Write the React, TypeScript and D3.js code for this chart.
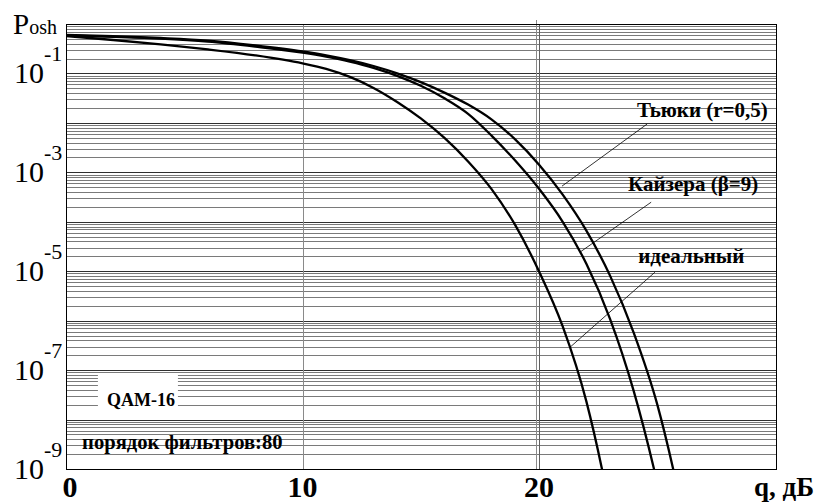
import React from "react";
import * as d3 from "d3";

const W = 819;
const H = 504;

// ---- data ----
const qIdeal = [0, 2, 4, 6, 8, 10, 11, 12, 13, 14, 15, 16, 17, 18, 19, 20, 21, 22, 22.66, 23.2];
const pIdeal = [0.572, 0.475, 0.387, 0.306, 0.232, 0.16, 0.1236, 0.0851, 0.051, 0.0265, 0.01233, 4.97e-3, 1.66e-3, 4.52e-4, 8.43e-5, 9.91e-6, 7.64e-7, 2.33e-8, 1e-9, 4.84e-11];

const qKaiser = [0, 2, 4, 6, 8, 10, 11, 12, 13, 14, 15, 16, 17, 18, 19, 20, 21, 22, 23, 24, 24.86, 25.4];
const pKaiser = [0.585, 0.548, 0.504, 0.4385, 0.3475, 0.2627, 0.2182, 0.1736, 0.13, 0.0896, 0.0562, 0.0314, 0.01525, 5.47e-3, 1.71e-3, 4.64e-4, 1.0e-4, 1.41e-5, 1.09e-6, 3.81e-8, 1e-9, 7.1e-11];

const qTukey = [0, 2, 4, 6, 8, 10, 11, 12, 13, 14, 15, 16, 17, 18, 19, 20, 21, 22, 23, 24, 25, 25.67, 26.2];
const pTukey = [0.599, 0.5664, 0.521, 0.4616, 0.369, 0.279, 0.2327, 0.1861, 0.1414, 0.1006, 0.0668, 0.04097, 0.02343, 0.01165, 4.59e-3, 1.43e-3, 3.54e-4, 6.62e-5, 8.15e-6, 5.73e-7, 2.0e-8, 1e-9, 6.6e-11];

const xTicks = [0, 10, 20];
const xGrid = [10, 19.86, 20];
const yLabelExps = [-1, -3, -5, -7, -9];
const decades = [-9, -8, -7, -6, -5, -4, -3, -2, -1, 0];

// annotations: text anchor (q,P), leader start (q,P), leader end on curve (q,P)
const annLabels = ["Тьюки (r=0,5)", "Кайзера (β=9)", "идеальный"];
const annText = [[24.14, 1.31e-2], [23.76, 4.16e-4], [24.19, 1.45e-5]];
const annFrom = [[24.57, 9.5e-3], [24.74, 2.49e-4], [24.9, 9.55e-6]];
const annTo = [[20.97, 5.26e-4], [21.73, 2.43e-5], [21.31, 2.9e-7]];

const noteQam = "QAM-16";
const noteQamPos = [1.73, 1.85e-8];
const noteOrder = "порядок фильтров:80";
const noteOrderPos = [0.68, 2.5e-9];

const FONT = "'Liberation Serif', 'Times New Roman', serif";

export default function App() {
  const left = 66, right = 777, top = 24, bottom = 469;
  const x = d3.scaleLinear().domain([0, 30.06]).range([left, right]);
  const y = d3.scaleLog().domain([1e-9, 1]).range([bottom, top]);

  const minor: number[] = [];
  for (let e = -9; e < 0; e++) {
    for (let m = 2; m <= 9; m++) minor.push(m * Math.pow(10, e));
  }

  const line = d3
    .line<[number, number]>()
    .x((d) => x(d[0]))
    .y((d) => y(d[1]))
    .curve(d3.curveMonotoneX);

  const series = [
    { q: qIdeal, p: pIdeal },
    { q: qKaiser, p: pKaiser },
    { q: qTukey, p: pTukey },
  ];

  const qamX = x(noteQamPos[0]);
  const qamY = y(noteQamPos[1]);

  return (
    <svg width={W} height={H} style={{ display: "block", position: "absolute", left: 0, top: 0, background: "#fff" }} fontFamily={FONT}>
      <defs>
        <clipPath id="plot">
          <rect x={left} y={top} width={right - left} height={bottom - top} />
        </clipPath>
      </defs>
      <rect x={0} y={0} width={W} height={H} fill="#fff" />
      {/* minor horizontal grid */}
      {minor.map((v, i) => (
        <line key={"m" + i} x1={left} x2={right} y1={Math.round(y(v)) + 0.5} y2={Math.round(y(v)) + 0.5} stroke="#7a7a7a" strokeWidth={1} />
      ))}
      {decades.map((e) => (
        <line key={"d" + e} x1={left} x2={right} y1={Math.round(y(Math.pow(10, e))) + 0.5} y2={Math.round(y(Math.pow(10, e))) + 0.5} stroke="#303030" strokeWidth={1} />
      ))}
      {/* vertical grid */}
      {xGrid.map((g, i) => (
        <line key={"vg" + i} x1={Math.round(x(g)) + 0.5} x2={Math.round(x(g)) + 0.5} y1={i === 1 ? top - 4 : top} y2={bottom} stroke={i === 2 ? "#606060" : "#8a8a8a"} strokeWidth={1} />
      ))}
      {/* QAM box */}
      <rect x={qamX - 9} y={qamY - 32} width={80} height={36} fill="#fff" />
      <text x={qamX} y={qamY} fontSize={18} fontWeight="bold" fill="#000">{noteQam}</text>
      <text x={x(noteOrderPos[0])} y={y(noteOrderPos[1])} fontSize={20.6} fontWeight="bold" fill="#000">{noteOrder}</text>
      {/* frame */}
      <rect x={left + 0.5} y={top + 0.5} width={right - left - 1} height={bottom - top} fill="none" stroke="#000" strokeWidth={1} />
      {/* curves */}
      <g clipPath="url(#plot)">
        {series.map((s, i) => (
          <path key={"s" + i} d={line(s.q.map((q, j) => [q, s.p[j]] as [number, number])) || ""} fill="none" stroke="#000" strokeWidth={2.3} />
        ))}
      </g>
      {/* annotations */}
      {annLabels.map((t, i) => (
        <g key={"a" + i}>
          <line x1={x(annFrom[i][0])} y1={y(annFrom[i][1])} x2={x(annTo[i][0])} y2={y(annTo[i][1])} stroke="#000" strokeWidth={0.8} />
          <text x={x(annText[i][0])} y={y(annText[i][1])} fontSize={21} fontWeight="bold" fill="#000">{t}</text>
        </g>
      ))}
      {/* y labels */}
      {yLabelExps.map((e) => {
        const yy = y(Math.pow(10, e));
        return (
          <g key={"yl" + e}>
            <text x={14} y={yy + 10} fontSize={30} fill="#000">10</text>
            <text x={44} y={yy - 12} fontSize={22} fill="#000">{String(e)}</text>
          </g>
        );
      })}
      <text x={13} y={34} fill="#000">
        <tspan fontSize={29}>P</tspan>
        <tspan fontSize={20}>osh</tspan>
      </text>
      {/* x labels */}
      {xTicks.map((t, i) => (
        <text key={"xt" + t} x={x(t) + (i === 0 ? 4 : 0)} y={497} fontSize={30} fontWeight="bold" textAnchor="middle" fill="#000">{String(t)}</text>
      ))}
      <text x={814} y={496} fontSize={27} fontWeight="bold" textAnchor="end" fill="#000">q, дБ</text>
    </svg>
  );
}
